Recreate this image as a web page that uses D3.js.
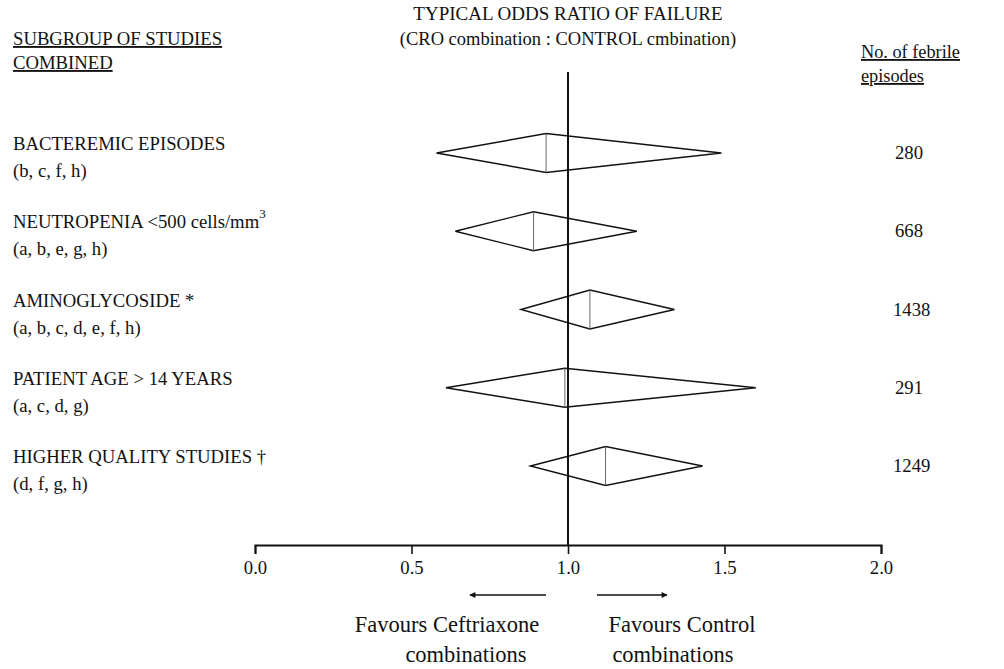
<!DOCTYPE html>
<html>
<head>
<meta charset="utf-8">
<script src="https://cdn.jsdelivr.net/npm/d3@7"></script>
<style>
  body { margin: 0; background: #fff; }
  svg text { font-family: "Liberation Serif", "Times New Roman", serif; fill: #111; }
</style>
</head>
<body>
<div id="chart"></div>
<script>
// data
var subgroups = ["BACTEREMIC EPISODES", "NEUTROPENIA <500 cells/mm", "AMINOGLYCOSIDE *",
  "PATIENT AGE > 14 YEARS", "HIGHER QUALITY STUDIES \u2020"]
var studyLists = ["(b, c, f, h)", "(a, b, e, g, h)", "(a, b, c, d, e, f, h)", "(a, c, d, g)", "(d, f, g, h)"]
var oddsRatio = [0.93, 0.89, 1.07, 0.99, 1.12]
var lowerCI = [0.58, 0.64, 0.85, 0.61, 0.88]
var upperCI = [1.49, 1.22, 1.34, 1.60, 1.43]
var episodes = [280, 668, 1438, 291, 1249]
var xTicks = [0, 0.5, 1, 1.5, 2]

var rows = subgroups.map((s, i) => ({
  name: s, studies: studyLists[i], or: oddsRatio[i], lo: lowerCI[i], hi: upperCI[i], n: episodes[i]
}))

var width = 1004, height = 669
var fs = 18.7

var svg = d3.select("#chart")
  .append("svg")
  .attr("width", width)
  .attr("height", height)

var xScale = d3.scaleLinear()
  .domain([0, 2])
  .range([255, 881])

var yScale = d3.scalePoint()
  .domain(subgroups)
  .range([153, 466])

var axisY = 545
var halfH = 19.5

// headers
svg.append("text")
  .attr("x", xScale(1)).attr("y", 20)
  .attr("text-anchor", "middle")
  .style("font-size", "19px")
  .text("TYPICAL ODDS RATIO OF FAILURE")

svg.append("text")
  .attr("x", xScale(1)).attr("y", 45)
  .attr("text-anchor", "middle")
  .style("font-size", "18.5px")
  .text("(CRO combination : CONTROL cmbination)")

svg.selectAll(".head-left")
  .data(["SUBGROUP OF STUDIES", "COMBINED"])
  .enter()
  .append("text")
  .attr("class", "head-left")
  .attr("x", 13)
  .attr("y", (d, i) => 45 + i * 24)
  .style("font-size", fs + "px")
  .style("text-decoration", "underline")
  .text(d => d)

svg.selectAll(".head-right")
  .data(["No. of febrile", "episodes"])
  .enter()
  .append("text")
  .attr("class", "head-right")
  .attr("x", 861)
  .attr("y", (d, i) => 58 + i * 24)
  .style("font-size", "18.3px")
  .style("text-decoration", "underline")
  .text(d => d)

// axis
var xAxis = d3.axisBottom(xScale)
  .tickValues(xTicks)
  .tickSize(9)
  .tickPadding(7)
  .tickFormat(d3.format(".1f"))

var axisG = svg.append("g")
  .attr("transform", `translate(0,${axisY})`)
  .call(xAxis)

axisG.select(".domain").attr("stroke", "#111").attr("stroke-width", 2)
axisG.selectAll(".tick line").attr("stroke", "#111").attr("stroke-width", 1.6)
axisG.selectAll(".tick text")
  .style("font-size", fs + "px")
  .style("font-family", '"Liberation Serif", serif')
  .attr("fill", "#111")

// line of no effect
svg.append("line")
  .attr("x1", xScale(1)).attr("x2", xScale(1))
  .attr("y1", 72).attr("y2", axisY)
  .attr("stroke", "#111")
  .attr("stroke-width", 2)

// row labels
var rowG = svg.selectAll(".row")
  .data(rows)
  .enter()
  .append("g")
  .attr("class", "row")

var lab = rowG.append("text")
  .attr("x", 13)
  .attr("y", d => yScale(d.name) - 3)
  .style("font-size", fs + "px")
  .text(d => d.name)

lab.filter((d, i) => i === 1)
  .append("tspan")
  .attr("dy", -10)
  .style("font-size", "13px")
  .text("3")

rowG.append("text")
  .attr("x", 13)
  .attr("y", d => yScale(d.name) + 24)
  .style("font-size", fs + "px")
  .text(d => d.studies)

rowG.append("text")
  .attr("x", d => d.n >= 1000 ? 893 : 895)
  .attr("y", d => yScale(d.name) + 6)
  .style("font-size", fs + "px")
  .text(d => d.n)

// diamonds
rowG.append("path")
  .attr("d", d => {
    var y = yScale(d.name)
    return `M${xScale(d.lo)},${y}L${xScale(d.or)},${y - halfH}L${xScale(d.hi)},${y}L${xScale(d.or)},${y + halfH}Z`
  })
  .attr("fill", "none")
  .attr("stroke", "#111")
  .attr("stroke-width", 1.4)
  .attr("stroke-linejoin", "miter")

rowG.append("line")
  .attr("x1", d => xScale(d.or)).attr("x2", d => xScale(d.or))
  .attr("y1", d => yScale(d.name) - halfH)
  .attr("y2", d => yScale(d.name) + halfH)
  .attr("stroke", "#666")
  .attr("stroke-width", 1)

// arrows and favour labels
var defs = svg.append("defs")
defs.append("marker")
  .attr("id", "head")
  .attr("viewBox", "0 0 10 10")
  .attr("refX", 9).attr("refY", 5)
  .attr("markerWidth", 10).attr("markerHeight", 6)
  .attr("markerUnits", "userSpaceOnUse")
  .attr("orient", "auto")
  .append("path")
  .attr("d", "M0,0L10,5L0,10Z")
  .attr("fill", "#111")

var arrowY = 595
svg.append("line")
  .attr("x1", xScale(1) - 22).attr("x2", xScale(1) - 98)
  .attr("y1", arrowY).attr("y2", arrowY)
  .attr("stroke", "#111").attr("stroke-width", 1.5)
  .attr("marker-end", "url(#head)")

svg.append("line")
  .attr("x1", xScale(1) + 29).attr("x2", xScale(1) + 99)
  .attr("y1", arrowY).attr("y2", arrowY)
  .attr("stroke", "#111").attr("stroke-width", 1.5)
  .attr("marker-end", "url(#head)")

var favFs = 22.5
svg.append("text")
  .attr("x", 447).attr("y", 632)
  .attr("text-anchor", "middle")
  .style("font-size", favFs + "px")
  .text("Favours Ceftriaxone")
svg.append("text")
  .attr("x", 466).attr("y", 662)
  .attr("text-anchor", "middle")
  .style("font-size", favFs + "px")
  .text("combinations")
svg.append("text")
  .attr("x", 682).attr("y", 632)
  .attr("text-anchor", "middle")
  .style("font-size", favFs + "px")
  .text("Favours Control")
svg.append("text")
  .attr("x", 673).attr("y", 662)
  .attr("text-anchor", "middle")
  .style("font-size", favFs + "px")
  .text("combinations")
</script>
</body>
</html>
